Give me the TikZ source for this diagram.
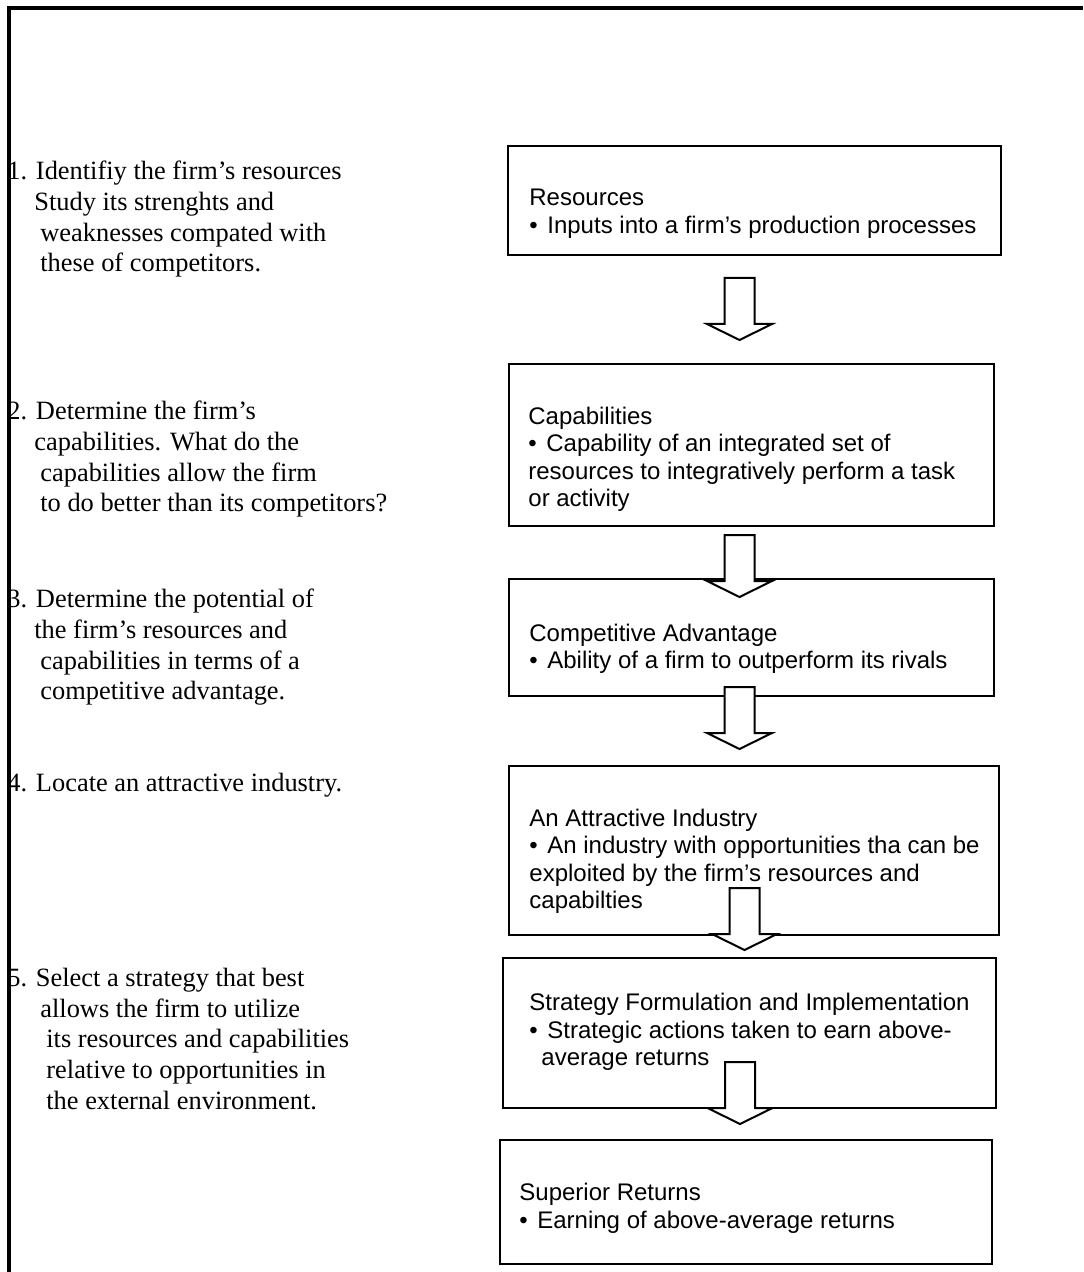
\documentclass[tikz,border=0pt]{standalone}
\usepackage{fontspec}
\setmainfont{Liberation Serif}
\setsansfont{Liberation Sans}
\newcommand{\blt}{\makebox[9pt][l]{•}}
\tikzset{
  blockarrow/.pic={
    \draw[fill=white, line width=1pt] (-15,0) -- (-15,46) -- (-32.5,46) -- (0,62) -- (32.5,46) -- (15,46) -- (15,0) -- cycle;
  }
}
\begin{document}
\begin{tikzpicture}[x=0.5pt, y=-0.5pt,
  panel/.style={draw, line width=1pt, anchor=north west, inner sep=0pt},
  boxtext/.style={anchor=north west, inner sep=0pt, align=left, font=\sffamily\fontsize{12pt}{13.6pt}\selectfont},
  steptext/.style={anchor=north west, inner sep=0pt, align=left, font=\fontsize{13.2pt}{15.3pt}\selectfont}]
  \useasboundingbox (0,0) rectangle (1083,1272);
  \draw[line width=2pt] (9,1272) -- (9,8) -- (1083,8);

  \node[steptext] (step1) at (7,161) {1. Identifiy the firm’s resources\\\hspace*{13.5pt}Study its strenghts and\\\hspace*{16.5pt}weaknesses compated with\\\hspace*{16.5pt}these of competitors.};
  \node[steptext] (step2) at (7,401) {2. Determine the firm’s\\\hspace*{13.5pt}capabilities. What do the\\\hspace*{16.5pt}capabilities allow the firm\\\hspace*{16.5pt}to do better than its competitors?};
  \node[steptext] (step3) at (7,589) {3. Determine the potential of\\\hspace*{13.5pt}the firm’s resources and\\\hspace*{16.5pt}capabilities in terms of a\\\hspace*{16.5pt}competitive advantage.};
  \node[steptext] (step4) at (7,773) {4. Locate an attractive industry.};
  \node[steptext] (step5) at (7,968) {5. Select a strategy that best\\\hspace*{16.5pt}allows the firm to utilize\\\hspace*{19.5pt}its resources and capabilities\\\hspace*{19.5pt}relative to opportunities in\\\hspace*{19.5pt}the external environment.};

  \node[panel, minimum width=246.5pt, minimum height=54.5pt] (res) at (507,145) {};
  \node[panel, minimum width=242.5pt, minimum height=81pt] (cap) at (508,363) {};
  \node[panel, minimum width=242.5pt, minimum height=58.5pt] (adv) at (508,578) {};
  \node[panel, minimum width=245pt, minimum height=84.5pt] (ind) at (508,765) {};
  \node[panel, minimum width=246.5pt, minimum height=75pt] (strat) at (502,957) {};
  \node[panel, minimum width=246pt, minimum height=62pt] (ret) at (499,1139) {};

  \node[boxtext] (restext) at (529,189) {Resources\\\blt Inputs into a firm’s production processes};
  \node[boxtext] (captext) at (528,407) {Capabilities\\\blt Capability of an integrated set of\\resources to integratively perform a task\\or activity};
  \node[boxtext] (advtext) at (529,623.5) {Competitive Advantage\\\blt Ability of a firm to outperform its rivals};
  \node[boxtext] (indtext) at (529,809) {An Attractive Industry\\\blt An industry with opportunities tha can be\\exploited by the firm’s resources and\\capabilties};
  \node[boxtext] (strattext) at (529,993) {Strategy Formulation and Implementation\\\blt Strategic actions taken to earn above-\\\hspace*{6pt}average returns};
  \node[boxtext] (rettext) at (519,1183) {Superior Returns\\\blt Earning of above-average returns};

  \foreach \n/\x/\y in {1/739.5/278, 2/739.5/535, 3/739.5/687, 4/744.5/888, 5/740/1062}
    \pic (arr\n) at (\x,\y) {blockarrow};
\end{tikzpicture}
\end{document}
